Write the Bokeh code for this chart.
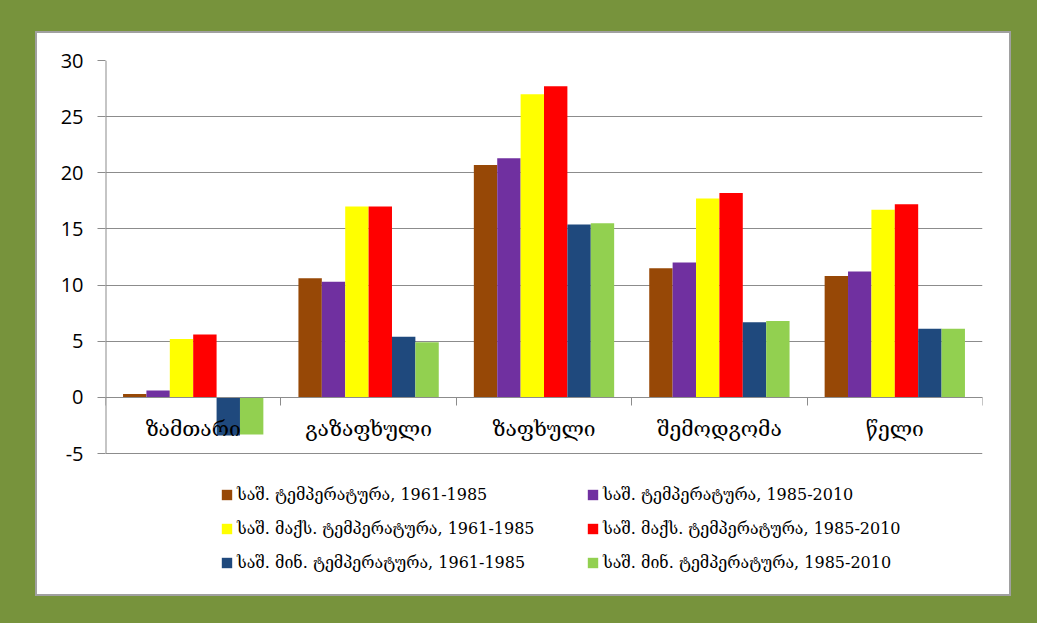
from bokeh.plotting import figure
from bokeh.models import ColumnDataSource, Range1d, FixedTicker, Legend, LegendItem
from bokeh.transform import dodge
from bokeh.layouts import column
from bokeh.embed import file_html
from bokeh.resources import INLINE

# ---- data ----
categories = ["ზამთარი", "გაზაფხული", "ზაფხული", "შემოდგომა", "წელი"]
series_labels = [
    "საშ. ტემპერატურა, 1961-1985",
    "საშ. ტემპერატურა, 1985-2010",
    "საშ. მაქს. ტემპერატურა, 1961-1985",
    "საშ. მაქს. ტემპერატურა, 1985-2010",
    "საშ. მინ. ტემპერატურა, 1961-1985",
    "საშ. მინ. ტემპერატურა, 1985-2010",
]
avg_1961_1985 = [0.3, 10.6, 20.7, 11.5, 10.8]
avg_1985_2010 = [0.6, 10.3, 21.3, 12.0, 11.2]
max_1961_1985 = [5.2, 17.0, 27.0, 17.7, 16.7]
max_1985_2010 = [5.6, 17.0, 27.7, 18.2, 17.2]
min_1961_1985 = [-3.4, 5.4, 15.4, 6.7, 6.1]
min_1985_2010 = [-3.3, 4.9, 15.5, 6.8, 6.1]
y_ticks = [-5, 0, 5, 10, 15, 20, 25, 30]

series = [avg_1961_1985, avg_1985_2010, max_1961_1985,
          max_1985_2010, min_1961_1985, min_1985_2010]
colors = ["#974806", "#7030A0", "#FFFF00", "#FF0000", "#1F497D", "#92D050"]

n = len(categories)
centers = [i + 0.5 for i in range(n)]
boundaries = list(range(n + 1))
data = {"x": centers}
for k, s in enumerate(series):
    data[f"s{k}"] = s
source = ColumnDataSource(data)

GRID = "#8C8C8C"
Y_MIN, Y_MAX = y_ticks[0], y_ticks[-1]
# frame extends below the value axis to host the legend (px per unit = 393/35)
Y_START = Y_MIN - 136 / (393 / (Y_MAX - Y_MIN))

p = figure(width=976, height=565,
           x_range=Range1d(0, n), y_range=Range1d(Y_START, Y_MAX),
           output_backend="svg", toolbar_location=None, tools="",
           min_border_left=68, min_border_right=31,
           min_border_top=27, min_border_bottom=9,
           background_fill_color="white", border_fill_color="white")
p.outline_line_color = None
p.styles = {"border": "2px solid #A0A0A0", "background-color": "white"}

group = 0.8
bw = group / len(series)
renderers = []
for k in range(len(series)):
    off = -group / 2 + bw * (k + 0.5)
    r = p.vbar(x=dodge("x", off), top=f"s{k}", width=bw, source=source,
               fill_color=colors[k], line_color=None)
    renderers.append(r)

# y axis line only over the value span
p.segment(x0=[0], y0=[Y_MIN], x1=[0], y1=[Y_MAX], line_color=GRID, line_width=2)

p.yaxis.ticker = FixedTicker(ticks=y_ticks)
p.yaxis.major_label_overrides = {t: str(t) for t in y_ticks}
p.yaxis.axis_line_color = None
p.yaxis.major_tick_line_color = GRID
p.yaxis.major_tick_out = 8
p.yaxis.major_tick_in = 0
p.yaxis.minor_tick_line_color = None
p.yaxis.major_label_standoff = 14
p.yaxis.major_label_text_font = "Open Sans"
p.yaxis.major_label_text_font_size = "20px"
p.yaxis.major_label_text_color = "black"

p.ygrid.ticker = FixedTicker(ticks=y_ticks)
p.ygrid.grid_line_color = GRID
p.ygrid.grid_line_width = 1
p.xgrid.visible = False

# category axis at zero
xa = p.xaxis[0]
xa.fixed_location = 0
xa.ticker = FixedTicker(ticks=centers, minor_ticks=boundaries)
xa.major_label_overrides = {c: name for c, name in zip(centers, categories)}
xa.axis_line_color = GRID
xa.major_tick_line_color = None
xa.minor_tick_line_color = GRID
xa.minor_tick_out = 8
xa.minor_tick_in = 0
xa.major_label_standoff = 12
xa.major_label_text_font = "DejaVu Serif"
xa.major_label_text_font_size = "21px"
xa.major_label_text_color = "black"

legend = Legend(items=[LegendItem(label=lab, renderers=[r])
                       for lab, r in zip(series_labels, renderers)],
                ncols=2, orientation="horizontal",
                location=(115, 17), margin=0, padding=0,
                border_line_color=None, background_fill_alpha=0,
                glyph_width=13, glyph_height=13, label_standoff=4,
                spacing=15, label_width=334, label_height=13,
                label_text_font="DejaVu Serif", label_text_font_size="16px",
                label_text_color="black")
p.add_layout(legend, "center")

p.margin = (31, 26, 27, 35)
page = column(p, width=1037, height=623,
              styles={"background-color": "#77933C"})

open("out.html", "w").write(file_html(page, INLINE))
